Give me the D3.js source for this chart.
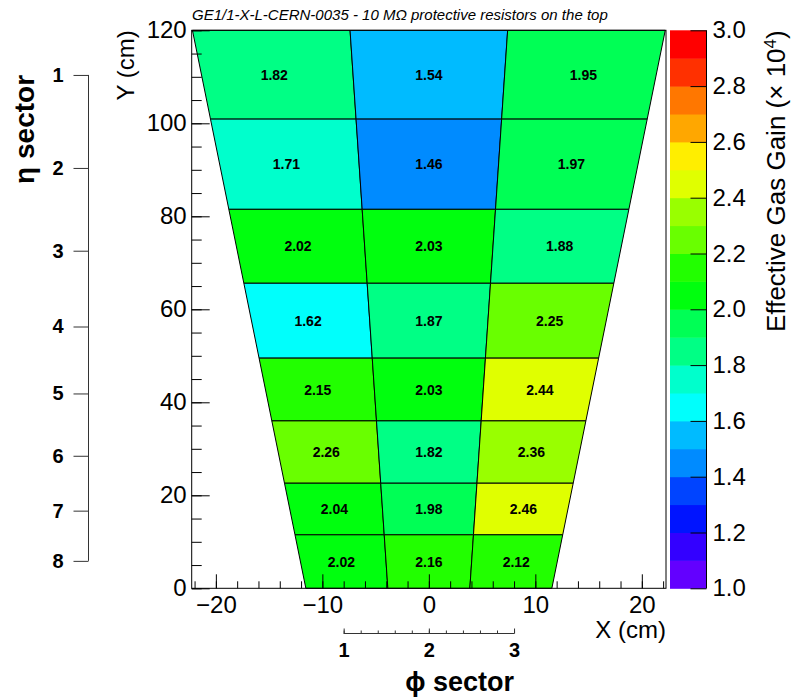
<!DOCTYPE html>
<html>
<head>
<meta charset="utf-8">
<script src="https://cdn.jsdelivr.net/npm/d3@7"></script>
<style>
  body { margin: 0; background: #fff; }
  text { font-family: "Liberation Sans", Arial, Helvetica, sans-serif; }
</style>
</head>
<body>
<svg id="chart" width="794" height="698"></svg>
<script>
// ---- data -------------------------------------------------------------
const etaSectors = [1, 2, 3, 4, 5, 6, 7, 8];
const phiSectors = [1, 2, 3];

// Effective gas gain (x 10^4) per phi sector, listed for eta sectors 1..8
const gainPhi1 = [1.82, 1.71, 2.02, 1.62, 2.15, 2.26, 2.04, 2.02];
const gainPhi2 = [1.54, 1.46, 2.03, 1.87, 2.03, 1.82, 1.98, 2.16];
const gainPhi3 = [1.95, 1.97, 1.88, 2.25, 2.44, 2.36, 2.46, 2.12];

// Chamber geometry (cm): eta partition edges from top to bottom, trapezoid half widths
const etaEdges = [120, 100.9, 81.5, 65.6, 49.5, 36.0, 22.6, 11.5, 0];
const halfWidthTop = 22.2;
const halfWidthBottom = 11.55;

// Y position (cm) of each eta sector on the sector axis
const etaAxisY = [110.4, 90.4, 72.6, 56.3, 41.9, 28.5, 16.7, 5.9];
// X position (cm) of phi sectors 1 and 3 on the sector axis
const phiAxisX = [-8, 8];

const yTicks = [0, 20, 40, 60, 80, 100, 120];
const xTicks = [-20, -10, 0, 10, 20];
const zTicks = [1.0, 1.2, 1.4, 1.6, 1.8, 2.0, 2.2, 2.4, 2.6, 2.8, 3.0];
const zRange = [1.0, 3.0];
const nContours = 20;

const title = "GE1/1-X-L-CERN-0035 - 10 M\u03A9 protective resistors on the top";

// ---- scales -----------------------------------------------------------
const frame = { left: 191.7, right: 666, top: 30.3, bottom: 588.3 };
const x = d3.scaleLinear([-22.27, 22.27], [frame.left, frame.right]);
const y = d3.scaleLinear([0, 120], [frame.bottom, frame.top]);
const z = d3.scaleLinear(zRange, [frame.bottom, frame.top]);

// ROOT "pretty" violet->red palette sampled at the contour levels
function contourColor(level) {
  const k = Math.floor((level + 0.99) * 50 / nContours);
  const hue = 280 - (k + 1) * 5.6;
  return d3.hsl(hue, 1, 0.5).formatHex();
}
function valueColor(v) {
  let level = Math.floor((v - zRange[0]) / (zRange[1] - zRange[0]) * nContours);
  level = Math.max(0, Math.min(nContours - 1, level));
  return contourColor(level);
}

const svg = d3.select("#chart");
svg.append("rect").attr("width", 794).attr("height", 698).attr("fill", "#fff");

// ---- cells ------------------------------------------------------------
const columns = [gainPhi1, gainPhi2, gainPhi3];
const halfW = yy => halfWidthBottom + (halfWidthTop - halfWidthBottom) * yy / 120;
const xAt = (yy, f) => -halfW(yy) + 2 * halfW(yy) * f;

const cells = [];
etaSectors.forEach((eta, i) => {
  const yt = etaEdges[i], yb = etaEdges[i + 1];
  phiSectors.forEach((phi, j) => {
    const f0 = j / 3, f1 = (j + 1) / 3;
    const pts = [[xAt(yt, f0), yt], [xAt(yt, f1), yt], [xAt(yb, f1), yb], [xAt(yb, f0), yb]];
    const xs = pts.map(p => p[0]);
    cells.push({
      eta, phi, value: columns[j][i], pts,
      cx: (d3.min(xs) + d3.max(xs)) / 2,
      cy: (yt + yb) / 2
    });
  });
});

const gCells = svg.append("g");
gCells.selectAll("polygon").data(cells).join("polygon")
  .attr("points", d => d.pts.map(p => [x(p[0]), y(p[1])].join(",")).join(" "))
  .attr("fill", d => valueColor(d.value))
  .attr("stroke", "#000")
  .attr("stroke-width", 1)
  .attr("stroke-linejoin", "round");

gCells.selectAll("text").data(cells).join("text")
  .attr("x", d => x(d.cx))
  .attr("y", d => y(d.cy))
  .attr("dy", "0.36em")
  .attr("text-anchor", "middle")
  .attr("font-size", 14)
  .attr("font-weight", "bold")
  .attr("fill", "#000")
  .text(d => d.value.toFixed(2));

// ---- frame and axes ---------------------------------------------------
svg.append("rect")
  .attr("x", frame.left).attr("y", frame.top)
  .attr("width", frame.right - frame.left).attr("height", frame.bottom - frame.top)
  .attr("fill", "none").attr("stroke", "#000").attr("stroke-width", 1);

function styleAxis(g, size) {
  g.select(".domain").remove();
  g.selectAll("line").attr("stroke", "#000");
  g.selectAll("text").attr("font-size", size).attr("fill", "#000")
    .attr("font-family", "'Liberation Sans', Arial, Helvetica, sans-serif");
}

// Y axis (minor every 5 cm, major every 20 cm, ticks inside the frame)
svg.append("g").attr("transform", `translate(${frame.left},0)`)
  .call(d3.axisLeft(y).tickValues(d3.range(0, 121, 5)).tickSize(-10).tickFormat(""))
  .call(g => styleAxis(g, 24));
svg.append("g").attr("transform", `translate(${frame.left},0)`)
  .call(d3.axisLeft(y).tickValues(yTicks).tickSize(-18).tickPadding(5).tickFormat(d3.format("d")))
  .call(g => styleAxis(g, 24));

// X axis (minor every 2 cm, major every 10 cm)
svg.append("g").attr("transform", `translate(0,${frame.bottom})`)
  .call(d3.axisBottom(x).tickValues(d3.range(-22, 23, 2)).tickSize(-7).tickFormat(""))
  .call(g => styleAxis(g, 24));
svg.append("g").attr("transform", `translate(0,${frame.bottom})`)
  .call(d3.axisBottom(x).tickValues(xTicks).tickSize(-14).tickPadding(8).tickFormat(d3.format("d")))
  .call(g => styleAxis(g, 24));

// Axis titles
svg.append("text")
  .attr("transform", `translate(134,${frame.top}) rotate(-90)`)
  .attr("text-anchor", "end").attr("font-size", 24).text("Y (cm)");
svg.append("text")
  .attr("x", frame.right).attr("y", 638)
  .attr("text-anchor", "end").attr("font-size", 24).text("X (cm)");

// Title
svg.append("text")
  .attr("x", 192).attr("y", 20)
  .attr("font-size", 15).attr("font-style", "italic").attr("fill", "#000")
  .text(title);

// ---- colour palette ---------------------------------------------------
const bar = { left: 670, right: 706.5 };
const levels = d3.range(nContours).map(i => ({
  i,
  lo: zRange[0] + i * (zRange[1] - zRange[0]) / nContours,
  hi: zRange[0] + (i + 1) * (zRange[1] - zRange[0]) / nContours
}));
svg.append("g").selectAll("rect").data(levels).join("rect")
  .attr("x", bar.left).attr("width", bar.right - bar.left)
  .attr("y", d => z(d.hi)).attr("height", d => z(d.lo) - z(d.hi) + 0.5)
  .attr("fill", d => contourColor(d.i));

svg.append("g").attr("transform", `translate(${bar.right},0)`)
  .call(d3.axisRight(z).tickValues(zTicks).tickSize(-16).tickPadding(6).tickFormat(d3.format(".1f")))
  .call(g => styleAxis(g, 24));
svg.append("line")
  .attr("x1", bar.right).attr("x2", bar.right)
  .attr("y1", z(zRange[0])).attr("y2", z(zRange[1]))
  .attr("stroke", "#000");

const zTitle = svg.append("text")
  .attr("transform", `translate(785,${frame.top}) rotate(-90)`)
  .attr("text-anchor", "end").attr("font-size", 26);
zTitle.append("tspan").text("Effective Gas Gain (\u00D7 10");
zTitle.append("tspan").attr("font-size", 17).attr("dy", "-0.55em").text("4");
zTitle.append("tspan").attr("dy", "0.37em").text(")");

// ---- sector axes ------------------------------------------------------
const etaAxisX = 88.5;
const gEta = svg.append("g").attr("transform", `translate(${etaAxisX},0)`)
  .call(d3.axisLeft(y).tickValues(etaAxisY).tickSize(15).tickPadding(10)
    .tickFormat((d, i) => etaSectors[i]));
styleAxis(gEta, 20);
gEta.selectAll("text").attr("font-weight", "bold");
gEta.selectAll("line").attr("stroke", "#333");
gEta.append("line")
  .attr("y1", y(etaAxisY[0])).attr("y2", y(etaAxisY[etaAxisY.length - 1]))
  .attr("stroke", "#333");
svg.append("text")
  .attr("transform", `translate(34,${y(etaAxisY[0])}) rotate(-90)`)
  .attr("text-anchor", "end").attr("font-size", 28).attr("font-weight", "bold")
  .text("\u03B7 sector");

const phiScale = d3.scaleLinear([phiSectors[0], phiSectors[phiSectors.length - 1]],
  [x(phiAxisX[0]), x(phiAxisX[1])]);
const phiY = 633.5;
svg.append("g").attr("transform", `translate(0,${phiY})`)
  .call(d3.axisBottom(phiScale).tickValues(d3.range(1, 3.001, 0.2)).tickSize(-3).tickFormat(""))
  .call(g => styleAxis(g, 20))
  .call(g => g.selectAll("line").attr("stroke", "#333"));
const gPhi = svg.append("g").attr("transform", `translate(0,${phiY})`)
  .call(d3.axisBottom(phiScale).tickValues(phiSectors).tickSize(-5).tickPadding(9).tickFormat(d3.format("d")));
styleAxis(gPhi, 20);
gPhi.selectAll("text").attr("font-weight", "bold");
gPhi.selectAll("line").attr("stroke", "#333");
gPhi.append("line")
  .attr("x1", phiScale(1)).attr("x2", phiScale(3))
  .attr("stroke", "#333");
svg.append("text")
  .attr("x", phiScale(3)).attr("y", 691)
  .attr("text-anchor", "end").attr("font-size", 27).attr("font-weight", "bold")
  .text("\u03D5 sector");
</script>
</body>
</html>
